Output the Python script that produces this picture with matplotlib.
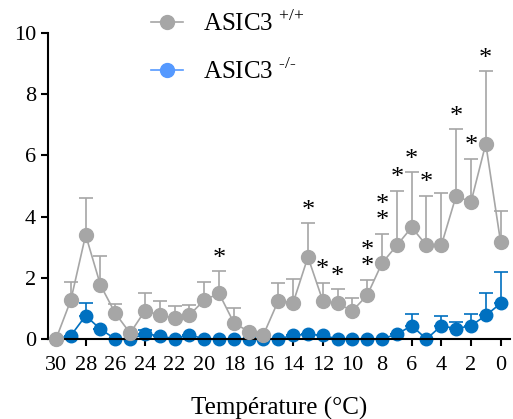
import numpy as np
import matplotlib.pyplot as plt
from matplotlib.lines import Line2D

# Temperature steps (°C), from 30 down to 0
temp = np.arange(30, -1, -1)

# ASIC3 +/+ (mean and upper SEM)
wt_mean = [0.0, 1.27, 3.40, 1.76, 0.84, 0.19, 0.92, 0.79, 0.68, 0.78,
           1.27, 1.49, 0.53, 0.24, 0.14, 1.25, 1.18, 2.68, 1.25, 1.16,
           0.92, 1.43, 2.48, 3.06, 3.65, 3.06, 3.06, 4.68, 4.47, 6.38, 3.17]
wt_sem = [0.0, 0.59, 1.21, 0.94, 0.29, 0.0, 0.57, 0.45, 0.39, 0.33,
          0.59, 0.73, 0.47, 0.0, 0.0, 0.58, 0.78, 1.10, 0.58, 0.46,
          0.42, 0.51, 0.96, 1.79, 1.80, 1.62, 1.70, 2.17, 1.43, 2.37, 1.03]

# ASIC3 -/- (mean and upper SEM)
ko_mean = [0.0, 0.11, 0.76, 0.32, 0.0, 0.0, 0.16, 0.11, 0.0, 0.14,
           0.0, 0.0, 0.0, 0.0, 0.0, 0.0, 0.12, 0.15, 0.12, 0.0,
           0.0, 0.0, 0.0, 0.16, 0.43, 0.0, 0.43, 0.34, 0.43, 0.77, 1.16]
ko_sem = [0.0, 0.0, 0.42, 0.0, 0.0, 0.0, 0.14, 0.0, 0.0, 0.0,
          0.0, 0.0, 0.0, 0.0, 0.0, 0.0, 0.0, 0.0, 0.0, 0.0,
          0.0, 0.0, 0.0, 0.0, 0.38, 0.0, 0.33, 0.21, 0.38, 0.72, 1.03]

# significance stars: temperature -> number of stars
star_temp = [19, 13, 12, 11, 9, 8, 7, 6, 5, 3, 2, 1]
star_n = [1, 1, 1, 1, 2, 2, 1, 1, 1, 1, 1, 1]

gray = '#a6a6a6'
blue = '#0070c0'


def main():
    plt.rcParams['font.family'] = ['Liberation Serif', 'DejaVu Serif']
    plt.rcParams['mathtext.fontset'] = 'custom'
    plt.rcParams['mathtext.rm'] = 'Liberation Serif'

    fig = plt.figure(figsize=(5.13, 4.19), dpi=100)
    ax = fig.add_axes([0.0936, 0.191, 0.9004, 0.730])

    ko_err = [np.zeros(len(ko_sem)), ko_sem]
    wt_err = [np.zeros(len(wt_sem)), wt_sem]

    ax.errorbar(temp, ko_mean, yerr=ko_err, color=blue, marker='o', ms=9,
                lw=1.2, elinewidth=1.2, capsize=5, capthick=1.2, clip_on=False,
                zorder=2)
    ax.errorbar(temp, wt_mean, yerr=wt_err, color=gray, marker='o', ms=10,
                lw=1.2, elinewidth=1.2, capsize=5, capthick=1.2, clip_on=False,
                zorder=3)

    for t, n in zip(star_temp, star_n):
        i = list(temp).index(t)
        top = wt_mean[i] + wt_sem[i]
        ax.text(t, top + 0.05, '*\n' * (n - 1) + '*', ha='center', va='bottom',
                fontsize=19, linespacing=0.65)

    ax.set_xlim(30.54, -0.63)
    ax.set_ylim(0, 10)
    ax.set_xticks(np.arange(30, -1, -2))
    ax.set_yticks(np.arange(0, 11, 2))
    ax.tick_params(labelsize=16, width=1.5, length=5)
    ax.tick_params(axis='x', pad=7)
    ax.spines['top'].set_visible(False)
    ax.spines['right'].set_visible(False)
    ax.spines['left'].set_linewidth(1.5)
    ax.spines['bottom'].set_linewidth(1.5)
    ax.set_xlabel('Température (°C)', fontsize=18, labelpad=16)

    handles = [
        Line2D([], [], color=gray, marker='o', ms=10, lw=1.2),
        Line2D([], [], color='#5599ff', marker='o', ms=10, lw=1.2),
    ]
    labels = [r'ASIC3 $^{\text{+/+}}$', r'ASIC3 $^{\text{-/-}}$']
    fig.legend(handles, labels, loc='upper left', bbox_to_anchor=(0.25, 1.03),
               frameon=False, fontsize=18, handlelength=1.3, handletextpad=0.8,
               labelspacing=0.9)

    fig.savefig('out.png', dpi=100)


if __name__ == '__main__':
    main()
